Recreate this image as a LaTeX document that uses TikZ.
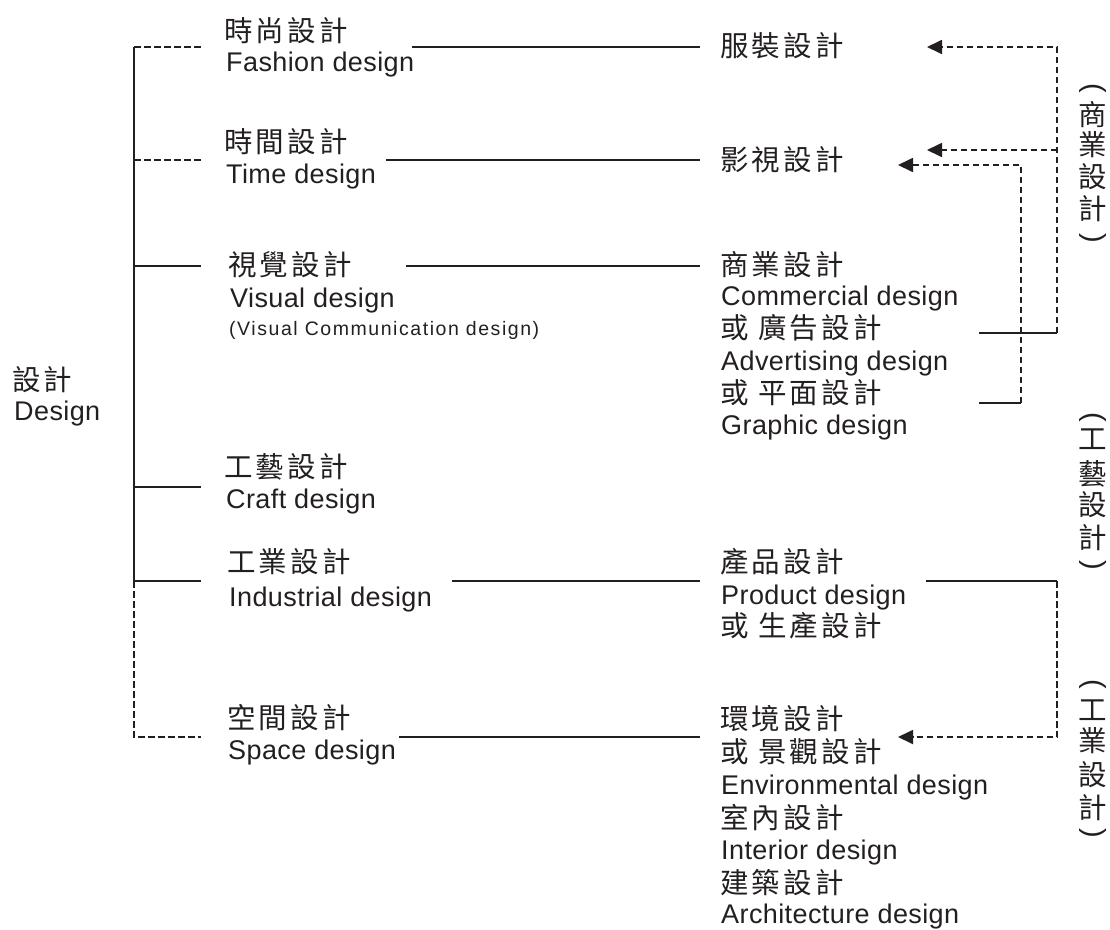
\documentclass[tikz,border=0pt]{standalone}
\usepackage{fontspec}
\setmainfont[LetterSpace=1.5]{Liberation Sans}
\newfontfamily\cjk[LetterSpace=11]{Noto Sans CJK TC}
\newfontfamily\cjkv{Noto Sans CJK TC}
\newfontfamily\parenfont{Liberation Sans}
\newfontfamily\smallfont[LetterSpace=8]{Liberation Sans}
\usetikzlibrary{arrows.meta}
\definecolor{ink}{HTML}{231F20}
\begin{document}
\begin{tikzpicture}[x=1pt,y=-1pt,
  cn/.style={font=\cjk\fontsize{28.5}{32}\selectfont, anchor=west, inner sep=0pt, text=ink},
  en/.style={font=\fontsize{27}{32}\selectfont, anchor=base west, inner sep=0pt, text=ink},
  sm/.style={font=\smallfont\fontsize{19.5}{24}\selectfont, anchor=base west, inner sep=0pt, text=ink},
  vc/.style={font=\cjkv\fontsize{28.5}{32}\selectfont, anchor=center, inner sep=0pt, text=ink},
  vp/.style={font=\parenfont\fontsize{29}{32}\selectfont, anchor=center, inner sep=0pt, text=ink, rotate=-90},
  solidline/.style={draw=ink, line width=1.4pt},
  dashline/.style={draw=ink, line width=1.8pt, dash pattern=on 6.5pt off 3.5pt},
  arr/.style={-{Triangle[length=15pt,width=14pt]}}]
\useasboundingbox (0,0) rectangle (1110,929);

% root
\node[cn] (rootcn) at (12,380) {設計};
\node[en] (rooten) at (14,420) {Design};

% left column
\node[cn] (fashcn) at (224,31) {時尚設計};
\node[en] (fashen) at (226,71) {Fashion design};
\node[cn] (timecn) at (224,142) {時間設計};
\node[en] (timeen) at (226,183) {Time design};
\node[cn] (viscn) at (228,265) {視覺設計};
\node[en] (visen) at (230,307) {Visual design};
\node[sm] (vissm) at (229,335) {(Visual Communication design)};
\node[cn] (craftcn) at (224,467) {工藝設計};
\node[en] (craften) at (226,508) {Craft design};
\node[cn] (indcn) at (227,562) {工業設計};
\node[en] (inden) at (229,606) {Industrial design};
\node[cn] (spacecn) at (227,718) {空間設計};
\node[en] (spaceen) at (228,759) {Space design};

% right column
\node[cn] (fzcn) at (720,46) {服裝設計};
\node[cn] (yscn) at (720,160) {影視設計};
\node[cn] (sycn) at (720,265) {商業設計};
\node[en] (syen) at (721,305) {Commercial design};
\node[cn] (ggcn) at (720,328) {或 廣告設計};
\node[en] (ggen) at (721,370) {Advertising design};
\node[cn] (pmcn) at (720,393) {或 平面設計};
\node[en] (pmen) at (721,434) {Graphic design};
\node[cn] (cpcn) at (720,562) {產品設計};
\node[en] (cpen) at (721,604) {Product design};
\node[cn] (sccn) at (720,626) {或 生產設計};
\node[cn] (hjcn) at (720,719) {環境設計};
\node[cn] (jgcn) at (720,752) {或 景觀設計};
\node[en] (hjen) at (721,794) {Environmental design};
\node[cn] (sncn) at (720,818) {室內設計};
\node[en] (snen) at (721,859) {Interior design};
\node[cn] (jzcn) at (720,883) {建築設計};
\node[en] (jzen) at (721,923) {Architecture design};

% vertical labels
\node[vp] (v1a) at (1092.5,88) {(};
\node[vc] (v1b) at (1092.5,115) {商};
\node[vc] (v1c) at (1092.5,145) {業};
\node[vc] (v1d) at (1092.5,177) {設};
\node[vc] (v1e) at (1092.5,209) {計};
\node[vp] (v1f) at (1092.5,238) {)};

\node[vp] (v2a) at (1092.5,417) {(};
\node[vc] (v2b) at (1092.5,439) {工};
\node[vc] (v2c) at (1092.5,474) {藝};
\node[vc] (v2d) at (1092.5,505) {設};
\node[vc] (v2e) at (1092.5,538) {計};
\node[vp] (v2f) at (1092.5,565) {)};

\node[vp] (v3a) at (1092.5,684) {(};
\node[vc] (v3b) at (1092.5,710) {工};
\node[vc] (v3c) at (1092.5,741) {業};
\node[vc] (v3d) at (1092.5,775) {設};
\node[vc] (v3e) at (1092.5,808) {計};
\node[vp] (v3f) at (1092.5,833) {)};

% tree coordinates
\coordinate (t1) at (134,47);
\coordinate (t2) at (134,160);
\coordinate (t3) at (134,266);
\coordinate (t4) at (134,487);
\coordinate (t5) at (134,581);
\coordinate (t6) at (134,737);
\coordinate (b1) at (201,47);
\coordinate (b2) at (201,160);
\coordinate (b3) at (201,266);
\coordinate (b4) at (201,487);
\coordinate (b5) at (201,581);
\coordinate (b6) at (201,737);

\draw[solidline] (t1) -- (t5);
\draw[dashline] (t5) -- (t6) -- (b6);
\draw[dashline] (t1) -- (b1);
\draw[dashline] (t2) -- (b2);
\draw[solidline] (t3) -- (b3);
\draw[solidline] (t4) -- (b4);
\draw[solidline] (t5) -- (b5);

% middle connectors
\coordinate (m1a) at (412,47);  \coordinate (m1b) at (700,47);
\coordinate (m2a) at (386,160); \coordinate (m2b) at (700,160);
\coordinate (m3a) at (406,266); \coordinate (m3b) at (700,266);
\coordinate (m5a) at (452,581); \coordinate (m5b) at (700,581);
\coordinate (m6a) at (399,737); \coordinate (m6b) at (700,737);
\draw[solidline] (m1a) -- (m1b);
\draw[solidline] (m2a) -- (m2b);
\draw[solidline] (m3a) -- (m3b);
\draw[solidline] (m5a) -- (m5b);
\draw[solidline] (m6a) -- (m6b);

% right connectors
\coordinate (r1s) at (979,333); \coordinate (r1c) at (1057,333);
\coordinate (r1t) at (1057,47); \coordinate (r1h) at (927,47);
\coordinate (r1m) at (1057,150); \coordinate (r1k) at (927,150);
\draw[solidline] (r1s) -- (r1c);
\draw[dashline, arr] (r1c) -- (r1t) -- (r1h);
\draw[dashline, arr] (r1m) -- (r1k);

\coordinate (r2s) at (979,403); \coordinate (r2c) at (1021,403);
\coordinate (r2t) at (1021,165); \coordinate (r2h) at (898,165);
\draw[solidline] (r2s) -- (r2c);
\draw[dashline, arr] (r2c) -- (r2t) -- (r2h);

\coordinate (r3s) at (926,581); \coordinate (r3c) at (1057,581);
\coordinate (r3t) at (1057,737); \coordinate (r3h) at (898,737);
\draw[solidline] (r3s) -- (r3c);
\draw[dashline, arr] (r3c) -- (r3t) -- (r3h);
\end{tikzpicture}
\end{document}
